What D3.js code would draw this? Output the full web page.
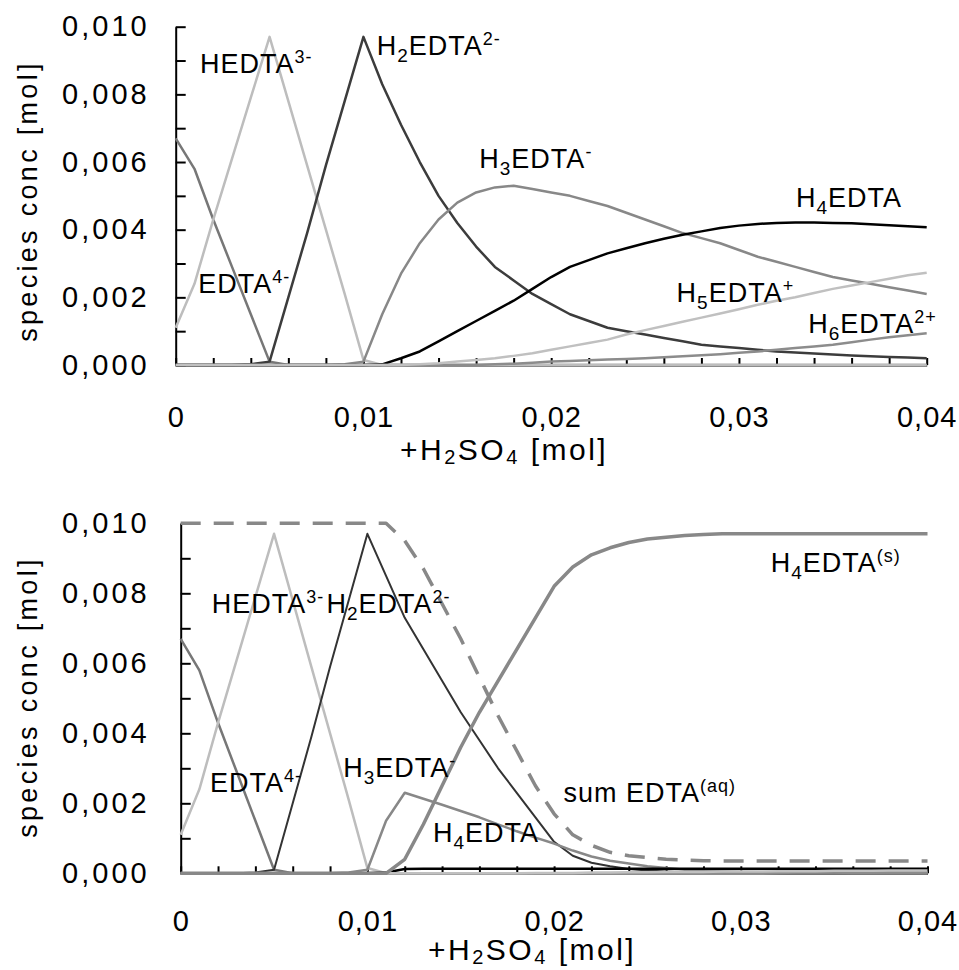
<!DOCTYPE html>
<html>
<head>
<meta charset="utf-8">
<title>EDTA species vs. added H2SO4</title>
<script src="https://cdn.jsdelivr.net/npm/d3@7"></script>
<style>
    body { margin: 0; background: #fff; }
    svg text { font-family: "Liberation Sans", Arial, sans-serif; fill: #000; }
</style>
</head>
<body>
<svg id="lienzo" width="959" height="970"></svg>
<script>
// added H2SO4 [mol], one point every 0.001
const addedAcid = [0, 0.001, 0.002, 0.003, 0.004, 0.005, 0.006, 0.007, 0.008, 0.009,
    0.010, 0.011, 0.012, 0.013, 0.014, 0.015, 0.016, 0.017, 0.018, 0.019,
    0.020, 0.021, 0.022, 0.023, 0.024, 0.025, 0.026, 0.027, 0.028, 0.029,
    0.030, 0.031, 0.032, 0.033, 0.034, 0.035, 0.036, 0.037, 0.038, 0.039, 0.040];

// ---- top chart: no precipitation ----
const edta4 = [0.0067, 0.0058, 0.0043, 0.0029, 0.0015, 0.0001, 0, 0, 0, 0,
    0, 0, 0, 0, 0, 0, 0, 0, 0, 0, 0, 0, 0, 0, 0, 0, 0, 0, 0, 0, 0, 0, 0, 0, 0, 0, 0, 0, 0, 0, 0];
const hedta3 = [0.0011, 0.0024, 0.0043, 0.0061, 0.0079, 0.0097, 0.0078, 0.0059, 0.0040, 0.0021,
    0.00015, 0, 0, 0, 0, 0, 0, 0, 0, 0, 0, 0, 0, 0, 0, 0, 0, 0, 0, 0, 0, 0, 0, 0, 0, 0, 0, 0, 0, 0, 0];
const h2edta = [0, 0, 0, 0, 0.00002, 0.0001, 0.0020, 0.0039, 0.0059, 0.0078,
    0.0097, 0.0083, 0.0071, 0.0060, 0.0050, 0.0042, 0.0035, 0.0029, 0.0025, 0.0021,
    0.0018, 0.0015, 0.0013, 0.0011, 0.0010, 0.0009, 0.0008, 0.0007, 0.0006, 0.00055,
    0.0005, 0.00045, 0.0004, 0.00037, 0.00034, 0.00031, 0.00028, 0.00026, 0.00024, 0.00022, 0.0002];
const h3edta = [0, 0, 0, 0, 0, 0, 0, 0, 0, 0.00002,
    0.0001, 0.0015, 0.0027, 0.0036, 0.0043, 0.0048, 0.0051, 0.00525, 0.0053, 0.0052,
    0.0051, 0.0050, 0.00485, 0.0047, 0.0045, 0.0043, 0.0041, 0.0039, 0.00375, 0.0036,
    0.0034, 0.0032, 0.00305, 0.0029, 0.00275, 0.0026, 0.0025, 0.0024, 0.0023, 0.0022, 0.0021];
const h4edta = [0, 0, 0, 0, 0, 0, 0, 0, 0, 0,
    0, 0.00002, 0.0002, 0.0004, 0.0007, 0.0010, 0.0013, 0.0016, 0.0019, 0.00225,
    0.0026, 0.0029, 0.0031, 0.0033, 0.00345, 0.0036, 0.00373, 0.00385, 0.00395, 0.00405,
    0.00412, 0.00417, 0.0042, 0.00421, 0.00421, 0.0042, 0.00419, 0.00416, 0.00413, 0.0041, 0.00407];
const h5edta = [0, 0, 0, 0, 0, 0, 0, 0, 0, 0,
    0, 0, 0, 0.00002, 0.00005, 0.0001, 0.00015, 0.0002, 0.00027, 0.00035,
    0.00045, 0.00055, 0.00065, 0.00075, 0.0009, 0.00103, 0.00115, 0.00128, 0.0014, 0.00152,
    0.00165, 0.00178, 0.0019, 0.002, 0.00213, 0.00225, 0.00235, 0.00245, 0.00255, 0.00265, 0.00273];
const h6edta = [0, 0, 0, 0, 0, 0, 0, 0, 0, 0,
    0, 0, 0, 0, 0, 0, 0, 0.00002, 0.00004, 0.00007,
    0.0001, 0.00012, 0.00014, 0.00016, 0.00018, 0.0002, 0.00023, 0.00026, 0.00029, 0.00032,
    0.00036, 0.0004, 0.00045, 0.0005, 0.00055, 0.0006, 0.00067, 0.00075, 0.00082, 0.00088, 0.00094];

// ---- bottom chart: H4EDTA precipitates ----
const h2edtaPrec = [0, 0, 0, 0, 0.00002, 0.0001, 0.0020, 0.0039, 0.0059, 0.0078,
    0.0097, 0.0085, 0.0073, 0.0064, 0.0055, 0.0046, 0.0038, 0.0030, 0.0023, 0.0016,
    0.0009, 0.0005, 0.0003, 0.0002, 0.00012, 0.00008, 0.00005, 0.00003, 0.00002, 0.00001,
    0.00001, 0.00001, 0, 0, 0, 0, 0, 0, 0, 0, 0];
const h3edtaPrec = [0, 0, 0, 0, 0, 0, 0, 0, 0, 0.00002,
    0.0001, 0.0015, 0.0023, 0.00213, 0.00196, 0.00178, 0.0016, 0.0014, 0.0012, 0.00102,
    0.00085, 0.00065, 0.00048, 0.00036, 0.00028, 0.0002, 0.00015, 0.0001, 0.00008, 0.00006,
    0.00004, 0.00003, 0.00003, 0.00002, 0.00002, 0.00002, 0.00001, 0.00001, 0.00001, 0.00001, 0.00001];
const h4edtaPrec = [0, 0, 0, 0, 0, 0, 0, 0, 0, 0,
    0, 0.00002, 0.00012, 0.00013, 0.00013, 0.00013, 0.00013, 0.00013, 0.00013, 0.00013,
    0.00013, 0.00013, 0.00013, 0.00013, 0.00013, 0.00013, 0.00013, 0.00013, 0.00013, 0.00013,
    0.00013, 0.00013, 0.00013, 0.00013, 0.00013, 0.00013, 0.00013, 0.00013, 0.00013, 0.00013, 0.00013];
const h5edtaPrec = [0, 0, 0, 0, 0, 0, 0, 0, 0, 0,
    0, 0, 0, 0, 0, 0, 0, 0, 0, 0.00001,
    0.00001, 0.00001, 0.00002, 0.00002, 0.00003, 0.00003, 0.00004, 0.00004, 0.00004, 0.00005,
    0.00005, 0.00005, 0.00006, 0.00006, 0.00006, 0.00007, 0.00007, 0.00007, 0.00008, 0.00008, 0.00008];
const h6edtaPrec = [0, 0, 0, 0, 0, 0, 0, 0, 0, 0,
    0, 0, 0, 0, 0, 0, 0, 0, 0, 0,
    0, 0, 0, 0, 0, 0, 0, 0.00001, 0.00001, 0.00001,
    0.00001, 0.00001, 0.00001, 0.00002, 0.00002, 0.00002, 0.00002, 0.00002, 0.00003, 0.00003, 0.00003];
const h4edtaSolid = [0, 0, 0, 0, 0, 0, 0, 0, 0, 0,
    0, 0, 0.0004, 0.0014, 0.0025, 0.0036, 0.0046, 0.0055, 0.0064, 0.0073,
    0.0082, 0.00875, 0.0091, 0.0093, 0.00945, 0.00955, 0.0096, 0.00965, 0.00968, 0.0097,
    0.0097, 0.0097, 0.0097, 0.0097, 0.0097, 0.0097, 0.0097, 0.0097, 0.0097, 0.0097, 0.0097];
const sumEdtaAq = [0.0100, 0.0100, 0.0100, 0.0100, 0.0100, 0.0100, 0.0100, 0.0100, 0.0100, 0.0100,
    0.0100, 0.0100, 0.0095, 0.0087, 0.0077, 0.0067, 0.0056, 0.0045, 0.0035, 0.0025,
    0.0017, 0.0011, 0.0008, 0.0006, 0.0005, 0.00045, 0.0004, 0.00038, 0.00036, 0.00035,
    0.00035, 0.00035, 0.00035, 0.00035, 0.00035, 0.00035, 0.00035, 0.00035, 0.00035, 0.00035, 0.00035];

// axis ticks
const xTicks = [0, 0.002, 0.004, 0.006, 0.008, 0.010, 0.012, 0.014, 0.016, 0.018, 0.020,
    0.022, 0.024, 0.026, 0.028, 0.030, 0.032, 0.034, 0.036, 0.038, 0.040];
const xTickLabels = [0, 0.01, 0.02, 0.03, 0.04];
const yTicks = [0, 0.001, 0.002, 0.003, 0.004, 0.005, 0.006, 0.007, 0.008, 0.009, 0.010];
const yTickLabels = [0, 0.002, 0.004, 0.006, 0.008, 0.010];

// label texts: [text, "sub" | "sup" | ""]
const nameEdta4 = [["EDTA", ""], ["4-", "sup"]];
const nameHedta3 = [["HEDTA", ""], ["3-", "sup"]];
const nameH2edta = [["H", ""], ["2", "sub"], ["EDTA", ""], ["2-", "sup"]];
const nameH3edta = [["H", ""], ["3", "sub"], ["EDTA", ""], ["-", "sup"]];
const nameH4edta = [["H", ""], ["4", "sub"], ["EDTA", ""]];
const nameH5edta = [["H", ""], ["5", "sub"], ["EDTA", ""], ["+", "sup"]];
const nameH6edta = [["H", ""], ["6", "sub"], ["EDTA", ""], ["2+", "sup"]];
const nameH4solid = [["H", ""], ["4", "sub"], ["EDTA", ""], ["(s)", "sup"]];
const nameSumAq = [["sum EDTA", ""], ["(aq)", "sup"]];

const svg = d3.select("#lienzo");

const isIn = (list, d) => list.some(v => Math.abs(v - d) < 1e-9);

function drawPanel(box, series, labels) {
    const xScale = d3.scaleLinear().domain([0, 0.04]).range([box.left, box.right]);
    const yScale = d3.scaleLinear().domain([0, 0.010]).range([box.bottom, box.top]);

    const g = svg.append("g");

    // y axis, ticks point inward
    const yAxis = d3.axisLeft(yScale)
        .tickValues(yTicks)
        .tickSizeInner(-10)
        .tickSizeOuter(0)
        .tickPadding(box.yPad)
        .tickFormat(d => isIn(yTickLabels, d) ? d3.format(".3f")(d).replace(".", ",") : "");
    const gy = g.append("g").attr("transform", "translate(" + box.left + ",0)").call(yAxis);
    gy.selectAll("text").attr("font-size", 29).attr("letter-spacing", 3);

    // x axis
    const xAxis = d3.axisBottom(xScale)
        .tickValues(xTicks)
        .tickSizeInner(-7)
        .tickSizeOuter(0)
        .tickPadding(box.xPad)
        .tickFormat(d => isIn(xTickLabels, d) ? (d === 0 ? "0" : d3.format(".2f")(d).replace(".", ",")) : "");
    const gx = g.append("g").attr("transform", "translate(0," + box.bottom + ")").call(xAxis);
    gx.selectAll("text").attr("font-size", 29).attr("letter-spacing", 1);

    [gx, gy].forEach(a => {
        a.selectAll("path, line").attr("stroke", "#000").attr("stroke-width", 2);
        a.selectAll("text").style("font-family", "'Liberation Sans', Arial, sans-serif");
    });

    // axis titles
    g.append("text")
        .attr("transform", "translate(" + box.yTitleX + "," + box.yTitleY + ") rotate(-90)")
        .attr("text-anchor", "middle")
        .attr("font-size", 27)
        .attr("letter-spacing", 3.3)
        .text("species conc [mol]");

    const xt = g.append("text")
        .attr("x", box.xTitleX)
        .attr("y", box.xTitleY)
        .attr("font-size", 30)
        .attr("letter-spacing", 2.5);
    xt.append("tspan").text("+H");
    xt.append("tspan").attr("font-size", 20).attr("dy", 4).text("2");
    xt.append("tspan").attr("dy", -4).text("SO");
    xt.append("tspan").attr("font-size", 20).attr("dy", 4).text("4");
    xt.append("tspan").attr("dy", -4).text(" [mol]");

    // series
    const line = d3.line()
        .x((d, i) => xScale(addedAcid[i]))
        .y(d => yScale(d));

    series.forEach(s => {
        g.append("path")
            .datum(s.values)
            .attr("fill", "none")
            .attr("stroke", s.color)
            .attr("stroke-width", s.width)
            .attr("stroke-dasharray", s.dash || null)
            .attr("stroke-linejoin", "round")
            .attr("d", line);
    });

    // species labels
    labels.forEach(l => {
        const t = g.append("text")
            .attr("x", xScale(l.x))
            .attr("y", yScale(l.y))
            .attr("font-size", 27)
            .attr("letter-spacing", 1);
        let shift = 0;
        l.name.forEach(part => {
            const ts = t.append("tspan").text(part[0]);
            let target = 0;
            if (part[1] === "sub") { ts.attr("font-size", 19); target = 7; }
            if (part[1] === "sup") { ts.attr("font-size", 18); target = -10; }
            ts.attr("dy", target - shift);
            shift = target;
        });
    });
}

drawPanel(
    { left: 175.7, right: 926.7, top: 26.7, bottom: 365, yPad: 26, xPad: 41, yTitleX: 37, yTitleY: 201,
      xTitleX: 400, xTitleY: 460 },
    [
        { values: edta4, color: "#777", width: 2.5 },
        { values: hedta3, color: "#bdbdbd", width: 2.5 },
        { values: h2edta, color: "#3c3c3c", width: 2.5 },
        { values: h3edta, color: "#888", width: 2.5 },
        { values: h4edta, color: "#000", width: 2.5 },
        { values: h6edta, color: "#8c8c8c", width: 2.5 },
        { values: h5edta, color: "#c0c0c0", width: 2.5 }
    ],
    [
        { name: nameHedta3, x: 0.00129, y: 0.00862 },
        { name: nameH2edta, x: 0.01071, y: 0.00916 },
        { name: nameEdta4, x: 0.0012, y: 0.00212 },
        { name: nameH3edta, x: 0.01617, y: 0.00581 },
        { name: nameH4edta, x: 0.03304, y: 0.00466 },
        { name: nameH5edta, x: 0.02668, y: 0.00187 },
        { name: nameH6edta, x: 0.03369, y: 0.00094 }
    ]
);

drawPanel(
    { left: 180.7, right: 927.5, top: 523.3, bottom: 873.3, yPad: 31, xPad: 37, yTitleX: 37, yTitleY: 697,
      xTitleX: 428, xTitleY: 960 },
    [
        { values: edta4, color: "#777", width: 2.5 },
        { values: hedta3, color: "#bdbdbd", width: 2.5 },
        { values: h2edtaPrec, color: "#333", width: 2 },
        { values: h3edtaPrec, color: "#888", width: 2.5 },
        { values: h4edtaPrec, color: "#000", width: 2.5 },
        { values: h6edtaPrec, color: "#8c8c8c", width: 2.5 },
        { values: h5edtaPrec, color: "#c0c0c0", width: 2.5 },
        { values: h4edtaSolid, color: "#888", width: 3.5 },
        { values: sumEdtaAq, color: "#888", width: 3.5, dash: "20,13" }
    ],
    [
        { name: nameHedta3, x: 0.00166, y: 0.00743 },
        { name: nameH2edta, x: 0.00781, y: 0.00743 },
        { name: nameEdta4, x: 0.00157, y: 0.00231 },
        { name: nameH3edta, x: 0.0087, y: 0.00276 },
        { name: nameH4edta, x: 0.01351, y: 0.0009 },
        { name: nameSumAq, x: 0.0205, y: 0.00203 },
        { name: nameH4solid, x: 0.0316, y: 0.00862 }
    ]
);
</script>
</body>
</html>
